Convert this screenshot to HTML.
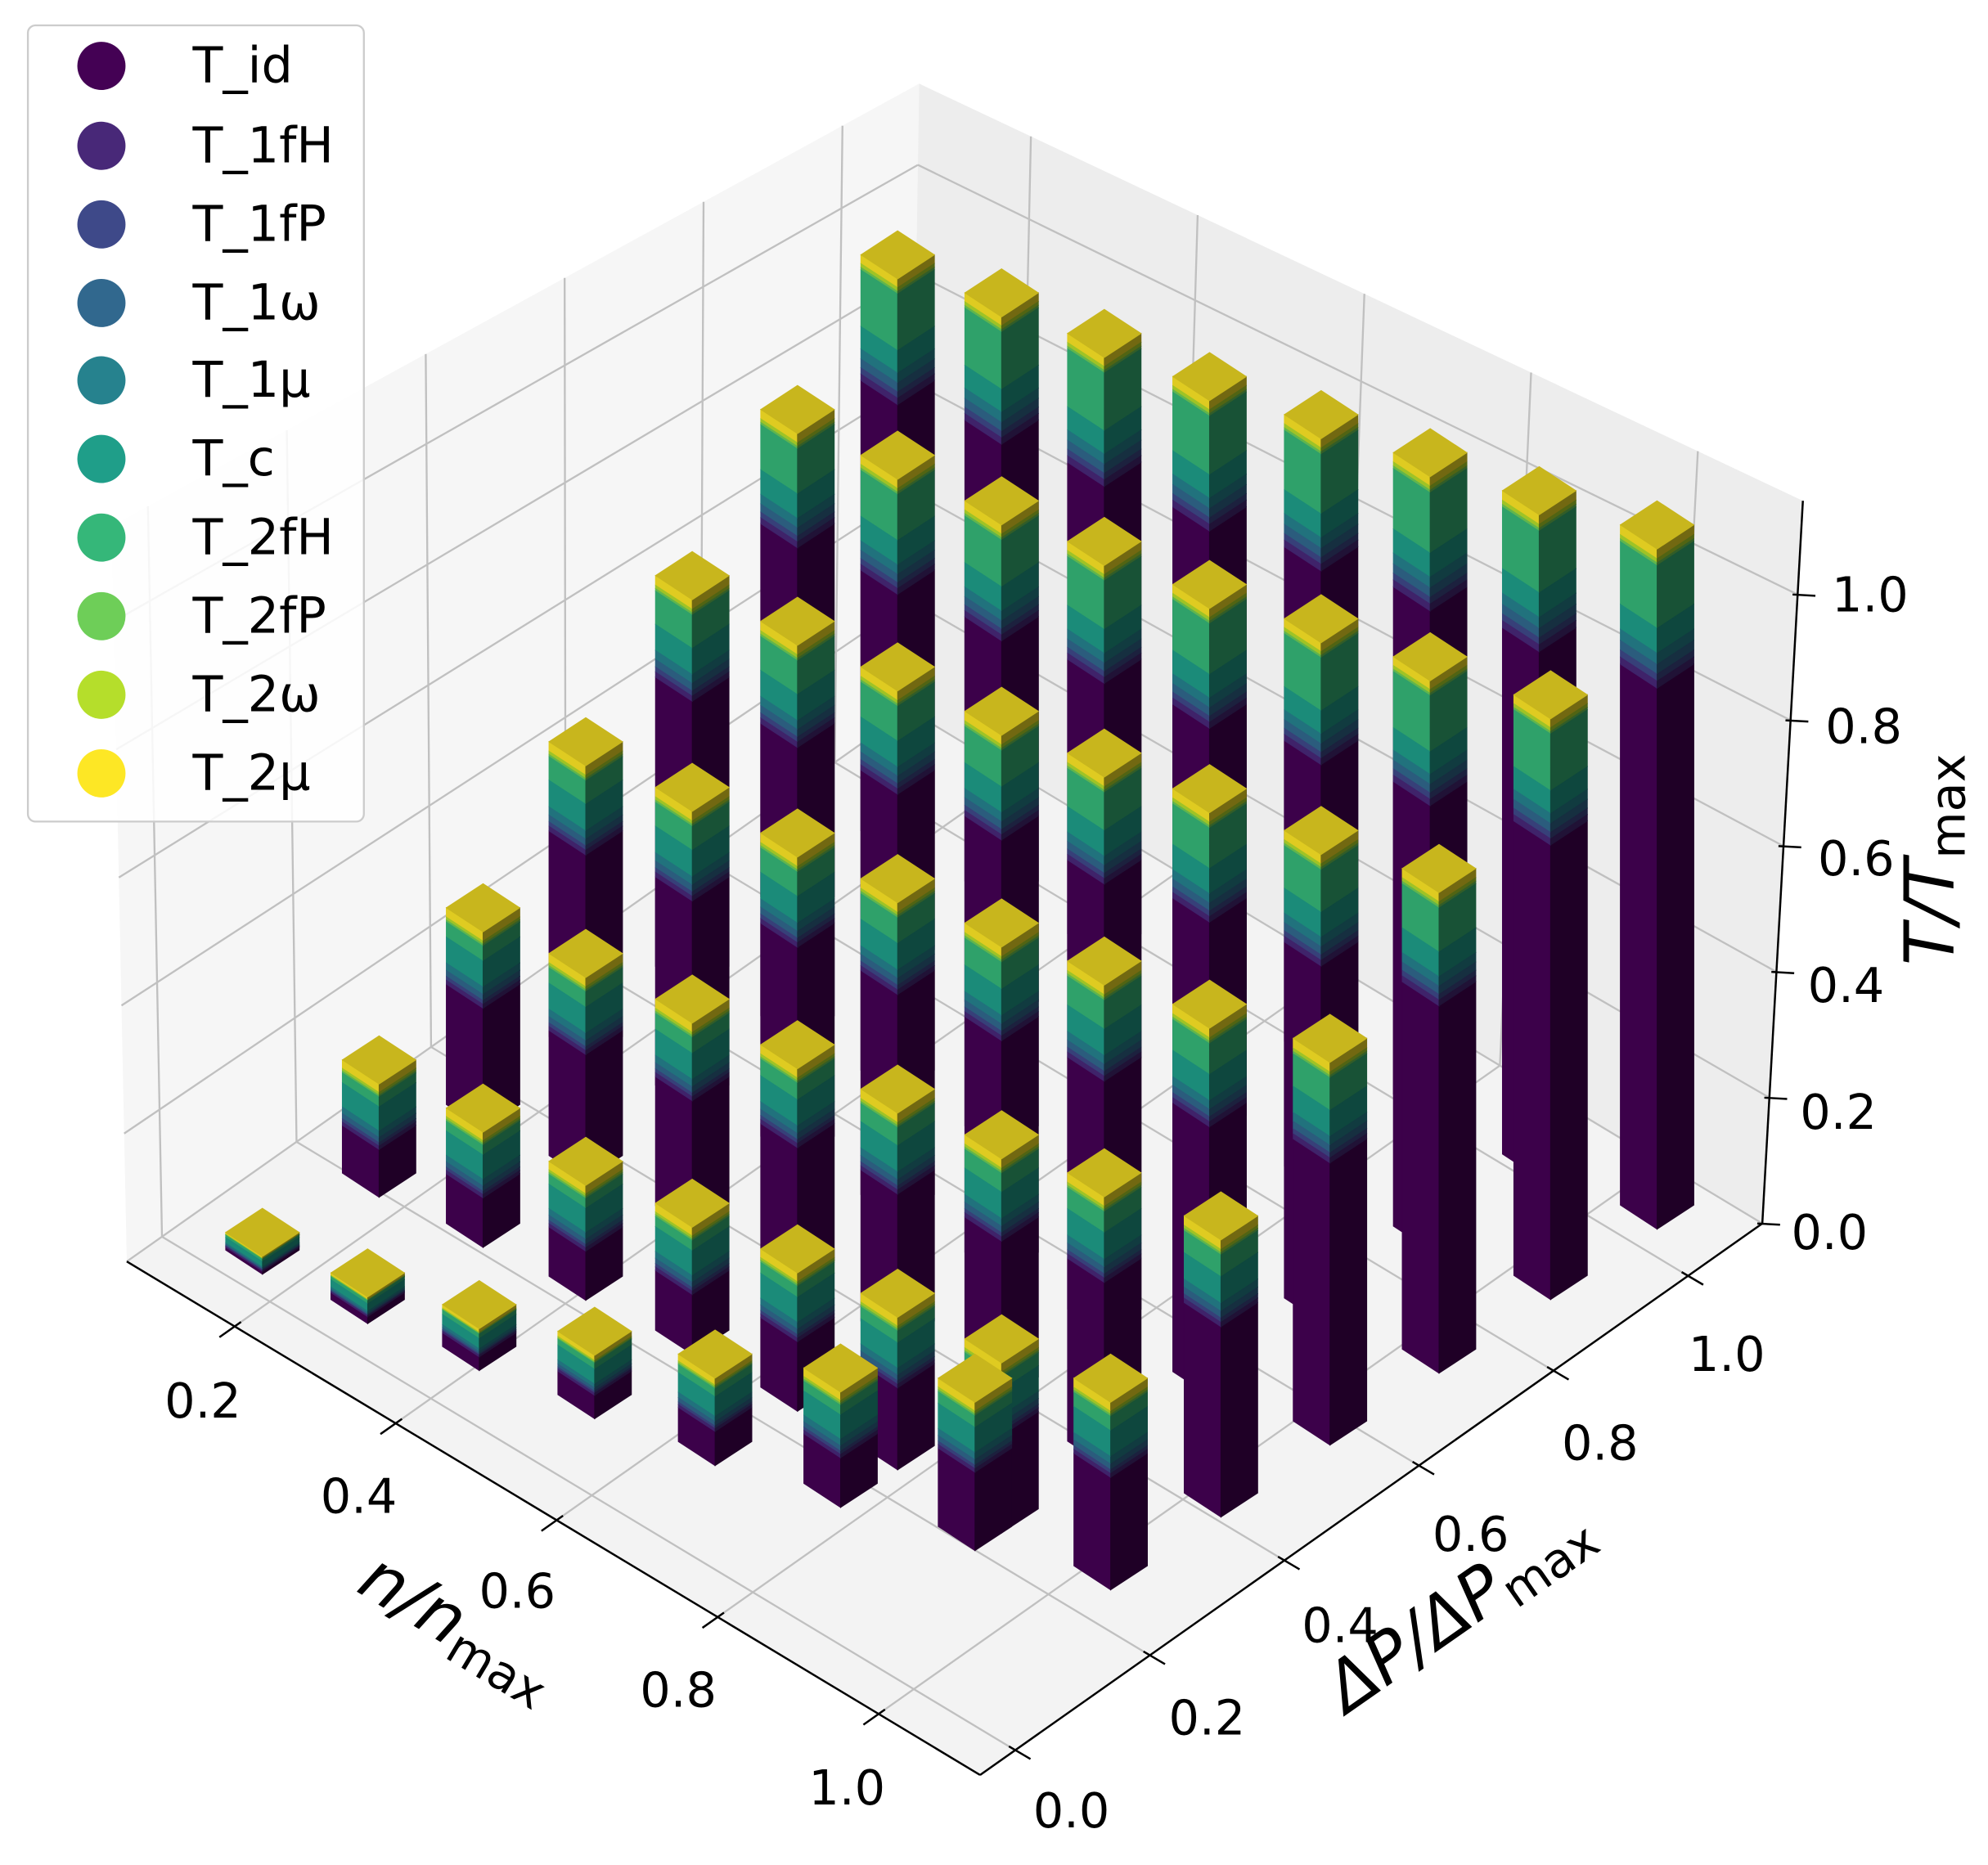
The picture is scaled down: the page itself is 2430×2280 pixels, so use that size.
<!DOCTYPE html>
<html><head><meta charset="utf-8">
<style>
html,body{margin:0;padding:0;background:#fff;}
svg{display:block;}
text{font-family:"DejaVu Sans","Liberation Sans",sans-serif;fill:#000;}
</style></head>
<body>
<svg id="s" width="2430" height="2280" viewBox="0 0 1568 1471" preserveAspectRatio="none" xmlns="http://www.w3.org/2000/svg">
<rect x="0" y="0" width="1568" height="1471" fill="#fff"/>
<g id="panes"></g>
<g id="grid"></g>
<g id="axes"></g>
<g id="bars"></g>
<g id="labels" font-size="38">
<text x="160" y="1105" text-anchor="middle" dominant-baseline="central">0.2</text>
<text x="283" y="1180" text-anchor="middle" dominant-baseline="central">0.4</text>
<text x="408" y="1255" text-anchor="middle" dominant-baseline="central">0.6</text>
<text x="535" y="1333" text-anchor="middle" dominant-baseline="central">0.8</text>
<text x="668" y="1410" text-anchor="middle" dominant-baseline="central">1.0</text>
<text x="845" y="1428" text-anchor="middle" dominant-baseline="central">0.0</text>
<text x="952" y="1355" text-anchor="middle" dominant-baseline="central">0.2</text>
<text x="1057" y="1282" text-anchor="middle" dominant-baseline="central">0.4</text>
<text x="1160" y="1210" text-anchor="middle" dominant-baseline="central">0.6</text>
<text x="1262" y="1138" text-anchor="middle" dominant-baseline="central">0.8</text>
<text x="1362" y="1068" text-anchor="middle" dominant-baseline="central">1.0</text>
<text x="1443" y="972" text-anchor="middle" dominant-baseline="central">0.0</text>
<text x="1450" y="877" text-anchor="middle" dominant-baseline="central">0.2</text>
<text x="1456" y="777" text-anchor="middle" dominant-baseline="central">0.4</text>
<text x="1464" y="677" text-anchor="middle" dominant-baseline="central">0.6</text>
<text x="1470" y="573" text-anchor="middle" dominant-baseline="central">0.8</text>
<text x="1475" y="469" text-anchor="middle" dominant-baseline="central">1.0</text>
</g>
<g font-size="54" font-style="italic">
<text transform="translate(362,1282) rotate(31)" text-anchor="middle" dominant-baseline="central">n/n<tspan font-style="normal" font-size="38" dy="14">max</tspan></text>
<text transform="translate(1150,1268) rotate(-35)" text-anchor="middle" dominant-baseline="central">ΔP/ΔP<tspan font-style="normal" font-size="38" dy="14">max</tspan></text>
<text transform="translate(1522,678) rotate(-90)" text-anchor="middle" dominant-baseline="central">T/T<tspan font-style="normal" font-size="38" dy="14">max</tspan></text>
</g>
<g id="legend">
<rect x="22" y="20" width="265" height="628" rx="6" ry="6" fill="#fff" fill-opacity="0.85" stroke="#cccccc" stroke-width="1.5"/>
</g>
</svg>
<script>
(function(){
var NS="http://www.w3.org/2000/svg";
function el(p,t,a){var e=document.createElementNS(NS,t);for(var k in a)e.setAttribute(k,a[k]);p.appendChild(e);return e;}
function lerp(a,b,t){return [a[0]+(b[0]-a[0])*t,a[1]+(b[1]-a[1])*t];}
function pts(arr){return arr.map(function(p){return p[0].toFixed(1)+","+p[1].toFixed(1);}).join(" ");}
var L0=[100,995],F0=[773,1400],R0=[1390,965],B0=[717,560],L1=[88,415],B1=[725,66],R1=[1422,395];
function floor(u,v){return [(1-u)*(1-v)*L0[0]+u*(1-v)*F0[0]+u*v*R0[0]+(1-u)*v*B0[0],
 (1-u)*(1-v)*L0[1]+u*(1-v)*F0[1]+u*v*R0[1]+(1-u)*v*B0[1]];}
function U(n){return (n-0.066)/1.06;} function V(p){return 0.045+p*0.86;} function Z(z){return z/1.149;}
function lw(v,z){return lerp(lerp(L0,B0,v),lerp(L1,B1,v),Z(z));}
function rw(u,z){return lerp(lerp(B0,R0,u),lerp(B1,R1,u),Z(z));}
var panes=document.getElementById("panes"),grid=document.getElementById("grid"),axes=document.getElementById("axes"),bars=document.getElementById("bars");
el(panes,"polygon",{points:pts([L0,B0,B1,L1]),fill:"#f6f6f6"});
el(panes,"polygon",{points:pts([B0,R0,R1,B1]),fill:"#ededed"});
el(panes,"polygon",{points:pts([L0,F0,R0,B0]),fill:"#f3f3f3"});
var gs={stroke:"#c0c0c0","stroke-width":"1.5",fill:"none"};
function line(g,a,b,st){var o={x1:a[0],y1:a[1],x2:b[0],y2:b[1]};for(var k in st)o[k]=st[k];el(g,"line",o);}
var nt=[0.2,0.4,0.6,0.8,1.0],pt=[0,0.2,0.4,0.6,0.8,1.0],zt=[0,0.2,0.4,0.6,0.8,1.0];
nt.forEach(function(n){var u=U(n);line(grid,floor(u,0),floor(u,1),gs);line(grid,rw(u,0),rw(u,1.149),gs);});
pt.forEach(function(p){var v=V(p);line(grid,floor(0,v),floor(1,v),gs);line(grid,lw(v,0),lw(v,1.149),gs);});
zt.forEach(function(z){line(grid,lw(0,z),lw(1,z),gs);line(grid,rw(0,z),rw(1,z),gs);});
var as={stroke:"#000","stroke-width":"1.6"};
line(axes,L0,F0,as);line(axes,F0,R0,as);line(axes,R0,R1,as);
nt.forEach(function(n){var a=floor(U(n),0);line(axes,[a[0]+5,a[1]-3.5],[a[0]-12,a[1]+8.5],as);});
pt.forEach(function(p){var a=floor(1,V(p));line(axes,[a[0]-5,a[1]-3],[a[0]+12,a[1]+7],as);});
zt.forEach(function(z){var a=lerp(R0,R1,Z(z));line(axes,[a[0]-4,a[1]],[a[0]+14,a[1]+1],as);});
var lg=document.getElementById("legend");
var cols=["#440154","#482878","#3e4989","#31688e","#26828e","#1f9e89","#35b779","#6ece58","#b5de2b","#fde725"];
var names=["T_id","T_1fH","T_1fP","T_1ω","T_1μ","T_c","T_2fH","T_2fP","T_2ω","T_2μ"];
var ly=[52,115,177,239,300,362,424,486,548,610];
for(var i=0;i<10;i++){el(lg,"circle",{cx:80,cy:ly[i],r:19,fill:cols[i]});
 var t=el(lg,"text",{x:152,y:ly[i]+13,"font-size":"39"});t.textContent=names[i];}
function hex(c){return [parseInt(c.substr(1,2),16),parseInt(c.substr(3,2),16),parseInt(c.substr(5,2),16)];}
function sh(c,f){var h=hex(c);return "rgb("+Math.round(h[0]*f)+","+Math.round(h[1]*f)+","+Math.round(h[2]*f)+")";}
var rows=[
 {b:[207,1005],c:[[207,953],[299,817],[381,697],[462,566],[546,435],[629,304],[708,182]]},
 {b:[290,1044],c:[[290,985],[381,855],[462,733],[546,602],[629,471],[708,340],[790,212]]},
 {b:[378,1081],c:[[378,1010],[462,897],[546,769],[629,638],[708,507],[790,376],[871,244]]},
 {b:[469,1119],c:[[469,1031],[546,930],[629,805],[708,674],[790,542],[871,408],[954,278]]},
 {b:[564,1156],c:[[564,1049],[629,966],[708,840],[790,709],[871,575],[954,442],[1042,308]]},
 {b:[663,1189],c:[[663,1060],[708,1001],[790,876],[871,739],[954,603],[1042,469],[1128,338]]},
 {b:[769,1223],c:[[769,1068],[790,1037],[871,906],[954,773],[1042,636],[1128,499],[1214,368]]},
 {b:[876,1254],c:[[876,1068],[963,940],[1049,800],[1135,666],[1223,529],[1307,395]]}
];
var list=[];
rows.forEach(function(r){r.c.forEach(function(c){var by=r.b[1]-0.66*(c[0]-r.b[0]);list.push({x:c[0],ty:c[1],by:by});});});
list.sort(function(a,b){return a.by-b.by;});
var order=[9,8,7,6,5,4,3,2,1];
var tall=[0.07,0.03,0.02,0.45,0.18,0.08,0.07,0.05,0.05];
var shrt=[0.13,0.04,0.03,0.15,0.37,0.10,0.08,0.05,0.05];
var w=29,dv=19;
list.forEach(function(b){
 var x=b.x,ty=b.ty,top=ty+2*dv,H=Math.max(2,b.by-top);
 var C=Math.min(0.55*H+4,40+0.13*H,H);
 var t=Math.max(0,Math.min(1,(H-100)/350));
 var g=el(bars,"g",{});
 function band(d1,d2,col){
  el(g,"polygon",{points:pts([[x-w,ty+dv+d1],[x,top+d1],[x,top+d2],[x-w,ty+dv+d2]]),fill:sh(col,0.88),stroke:sh(col,0.88),"stroke-width":"0.6"});
  el(g,"polygon",{points:pts([[x,top+d1],[x+w,ty+dv+d1],[x+w,ty+dv+d2],[x,top+d2]]),fill:sh(col,0.45),stroke:sh(col,0.45),"stroke-width":"0.6"});
 }
 band(C,H,cols[0]);
 var d=0;
 for(var k=0;k<9;k++){var f=shrt[k]*(1-t)+tall[k]*t;var d2=d+f*C;band(d,Math.min(d2,H),cols[order[k]]);d=d2;}
 el(g,"polygon",{points:pts([[x,ty],[x+w,ty+dv],[x,top],[x-w,ty+dv]]),fill:sh(cols[9],0.79),stroke:sh(cols[9],0.79),"stroke-width":"0.6"});
});
})();
</script>
</body></html>
